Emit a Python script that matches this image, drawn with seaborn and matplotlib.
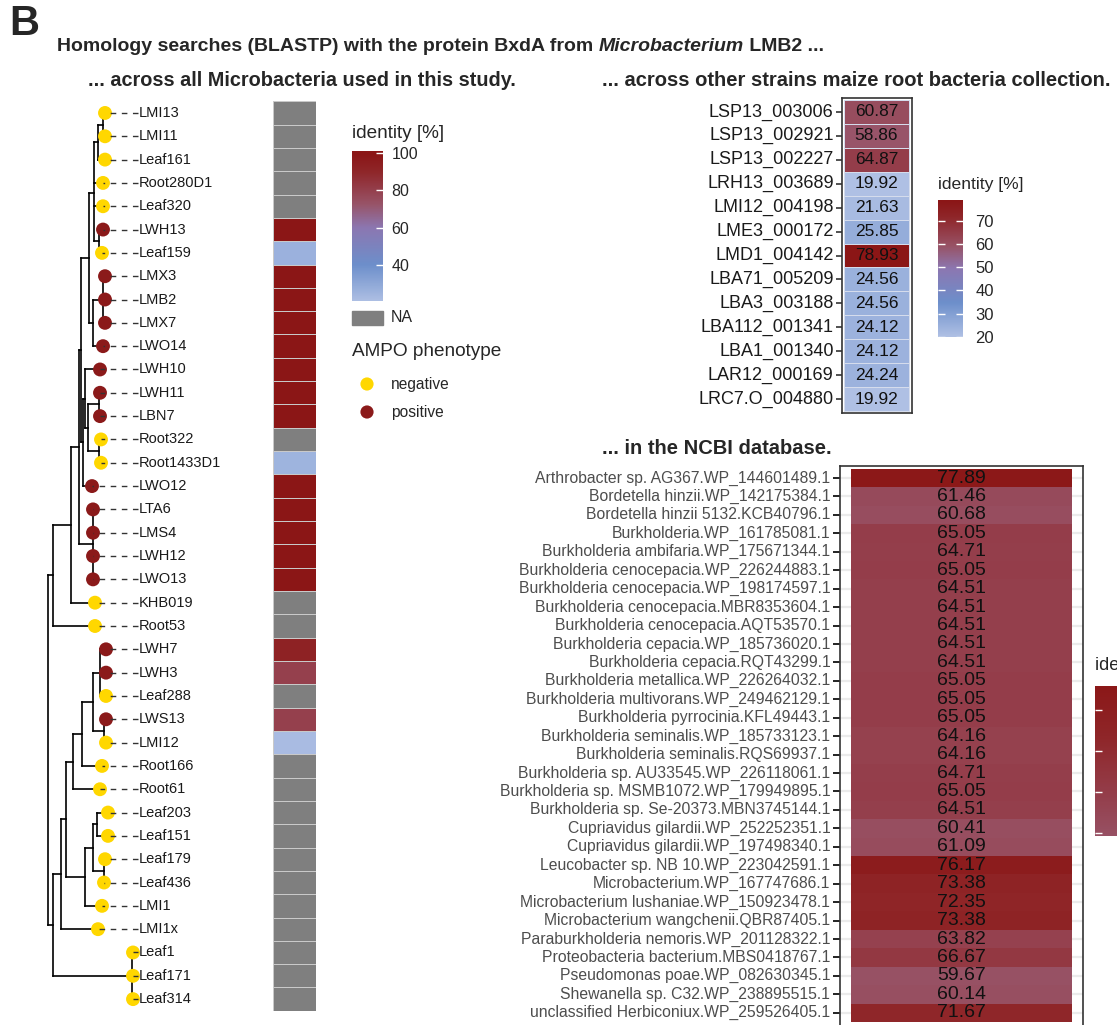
import numpy as np
import pandas as pd
import matplotlib
matplotlib.use("Agg")
import matplotlib.pyplot as plt
import seaborn as sns
from matplotlib.colors import LinearSegmentedColormap, Normalize
from matplotlib.patches import Rectangle

sns.set_style("white")
plt.rcParams["font.family"] = ["Liberation Sans", "DejaVu Sans"]

# ---- data -------------------------------------------------------------
# phylogeny of the Microbacteria (branch lengths)
tree_newick = (
    "(((((((((LMI13:0.02,LMI11:0.02):0.05,Leaf161:0.07):0.04,Root280D1:0.09,"
    "Leaf320:0.09,(LWH13:0.04,Leaf159:0.03):0.05):0.05,"
    "((LMX3:0.02,LMB2:0.02,LMX7:0.02):0.10,LWO14:0.10):0.04):0.08,"
    "((LWH10:0.15,((LWH11:0.01,LBN7:0.01):0.11,(Root322:0.02,Root1433D1:0.02):0.11):0.03):0.02,"
    "LWO12:0.09):0.02):0.02,(LTA6:0,LMS4:0,LWH12:0,LWO13:0):0.14):0.08,KHB019:0.24):0.18,"
    "Root53:0.42):0.05,"
    "(((((((LWH7:0.06,LWH3:0.06,Leaf288:0.06):0.07,(LWS13:0.02,LMI12:0.02):0.11):0.11,"
    "Root166:0.20):0.09,Root61:0.27):0.07,(((Leaf203:0.11,Leaf151:0.11):0.04,"
    "(Leaf179:0.01,Leaf436:0):0.11):0.08,LMI1:0.17):0.19):0.05,LMI1x:0.37):0.08,"
    "(Leaf1:0.01,Leaf171:0.01,Leaf314:0.01):0.79):0.05);"
)

strains = ["LMI13", "LMI11", "Leaf161", "Root280D1", "Leaf320", "LWH13", "Leaf159",
           "LMX3", "LMB2", "LMX7", "LWO14", "LWH10", "LWH11", "LBN7", "Root322",
           "Root1433D1", "LWO12", "LTA6", "LMS4", "LWH12", "LWO13", "KHB019", "Root53",
           "LWH7", "LWH3", "Leaf288", "LWS13", "LMI12", "Root166", "Root61", "Leaf203",
           "Leaf151", "Leaf179", "Leaf436", "LMI1", "LMI1x", "Leaf1", "Leaf171", "Leaf314"]
positive = ["LWH13", "LMX3", "LMB2", "LMX7", "LWO14", "LWH10", "LWH11", "LBN7", "LWO12",
            "LTA6", "LMS4", "LWH12", "LWO13", "LWH7", "LWH3", "LWS13"]
nan = np.nan
strain_identity = [nan, nan, nan, nan, nan, 100, 26, 100, 100, 100, 100, 100, 100, 100, nan,
                   25, 100, 100, 100, 100, 100, nan, nan, 93, 80, nan, 80, 22, nan, nan, nan,
                   nan, nan, nan, nan, nan, nan, nan, nan]

maize_genes = ["LSP13_003006", "LSP13_002921", "LSP13_002227", "LRH13_003689", "LMI12_004198",
               "LME3_000172", "LMD1_004142", "LBA71_005209", "LBA3_003188", "LBA112_001341",
               "LBA1_001340", "LAR12_000169", "LRC7.O_004880"]
maize_identity = [60.87, 58.86, 64.87, 19.92, 21.63, 25.85, 78.93, 24.56, 24.56, 24.12,
                  24.12, 24.24, 19.92]

ncbi_hits = ["Arthrobacter sp. AG367.WP_144601489.1", "Bordetella hinzii.WP_142175384.1",
             "Bordetella hinzii 5132.KCB40796.1", "Burkholderia.WP_161785081.1",
             "Burkholderia ambifaria.WP_175671344.1", "Burkholderia cenocepacia.WP_226244883.1",
             "Burkholderia cenocepacia.WP_198174597.1", "Burkholderia cenocepacia.MBR8353604.1",
             "Burkholderia cenocepacia.AQT53570.1", "Burkholderia cepacia.WP_185736020.1",
             "Burkholderia cepacia.RQT43299.1", "Burkholderia metallica.WP_226264032.1",
             "Burkholderia multivorans.WP_249462129.1", "Burkholderia pyrrocinia.KFL49443.1",
             "Burkholderia seminalis.WP_185733123.1", "Burkholderia seminalis.RQS69937.1",
             "Burkholderia sp. AU33545.WP_226118061.1", "Burkholderia sp. MSMB1072.WP_179949895.1",
             "Burkholderia sp. Se-20373.MBN3745144.1", "Cupriavidus gilardii.WP_252252351.1",
             "Cupriavidus gilardii.WP_197498340.1", "Leucobacter sp. NB 10.WP_223042591.1",
             "Microbacterium.WP_167747686.1", "Microbacterium lushaniae.WP_150923478.1",
             "Microbacterium wangchenii.QBR87405.1", "Paraburkholderia nemoris.WP_201128322.1",
             "Proteobacteria bacterium.MBS0418767.1", "Pseudomonas poae.WP_082630345.1",
             "Shewanella sp. C32.WP_238895515.1", "unclassified Herbiconiux.WP_259526405.1"]
ncbi_identity = [77.89, 61.46, 60.68, 65.05, 64.71, 65.05, 64.51, 64.51, 64.51, 64.51, 64.51,
                 65.05, 65.05, 65.05, 64.16, 64.16, 64.71, 65.05, 64.51, 60.41, 61.09, 76.17,
                 73.38, 72.35, 73.38, 63.82, 66.67, 59.67, 60.14, 71.67]

# ---- helpers ----------------------------------------------------------
W, H = 1117, 1025
fig = plt.figure(figsize=(W / 100, H / 100), dpi=100)


def px_axes(x0, y0, x1, y1):
    return fig.add_axes([x0 / W, 1 - y1 / H, (x1 - x0) / W, (y1 - y0) / H])


def parse_newick(s):
    pos = 0

    def node():
        nonlocal pos
        kids = []
        if s[pos] == "(":
            pos += 1
            while True:
                kids.append(node())
                if s[pos] == ",":
                    pos += 1
                else:
                    break
            pos += 1
        start = pos
        while s[pos] not in ",():;":
            pos += 1
        name = s[start:pos]
        length = 0.0
        if s[pos] == ":":
            pos += 1
            start = pos
            while s[pos] not in ",();":
                pos += 1
            length = float(s[start:pos])
        return {"name": name, "len": length, "kids": kids}

    return node()


identity_cmap = LinearSegmentedColormap.from_list(
    "identity", [(0.0, "#AFC0E4"), (0.25, "#6D8FCB"), (0.5, "#8C77B1"), (0.66, "#985468"),
                 (0.77, "#943C48"), (0.88, "#8F2629"), (1.0, "#8B1616")])
identity_cmap.set_bad("#7F7F7F")
yellow, red = "#FFD700", "#8B1A1A"

bg = fig.add_axes([0, 0, 1, 1], zorder=-5)
bg.set_xlim(0, W)
bg.set_ylim(H, 0)
bg.axis("off")

# ---- titles -----------------------------------------------------------
bg.text(9, 24, "B", fontsize=30, fontweight="bold", va="center")
t1 = bg.text(57, 51, "Homology searches (BLASTP) with the protein BxdA from ",
             fontsize=14, fontweight="bold", va="baseline")
t2 = bg.annotate("Microbacterium", xy=(1, 0), xycoords=t1, va="bottom",
                 fontsize=14, fontweight="bold", style="italic")
bg.annotate(" LMB2 ...", xy=(1, 0), xycoords=t2, va="bottom", fontsize=14, fontweight="bold")
bg.text(88, 80, "... across all Microbacteria used in this study.", fontsize=14.3,
        fontweight="bold", va="center")
bg.text(602, 80, "... across other strains maize root bacteria collection.", fontsize=14.5,
        fontweight="bold", va="center")
bg.text(602, 448, "... in the NCBI database.", fontsize=14.5, fontweight="bold", va="center")

# ---- tree -------------------------------------------------------------
root = parse_newick(tree_newick)
tips = []


def layout(nd, x):
    nd["x"] = x + nd["len"]
    if not nd["kids"]:
        nd["y"] = len(tips)
        tips.append(nd)
    else:
        for k in nd["kids"]:
            layout(k, nd["x"])
        nd["y"] = np.mean([k["y"] for k in nd["kids"]])


layout(root, 0.0)
n = len(strains)
row_top, row_h = 101.3, 23.32
tree_ax = px_axes(40, row_top, 270, row_top + n * row_h)
tree_ax.set_xlim(-0.08, 2.22)
tree_ax.set_ylim(n - 0.5, -0.5)
tree_ax.axis("off")


def draw(nd):
    if nd["kids"]:
        ys = [k["y"] for k in nd["kids"]]
        tree_ax.plot([nd["x"], nd["x"]], [min(ys), max(ys)], color="black", lw=1.2,
                     solid_capstyle="projecting", zorder=1)
        for k in nd["kids"]:
            tree_ax.plot([nd["x"], k["x"]], [k["y"], k["y"]], color="black", lw=1.2,
                         solid_capstyle="projecting", zorder=1)
            draw(k)


draw(root)
label_x = 0.91
for t in tips:
    tree_ax.plot([label_x - 0.01, t["x"]], [t["y"], t["y"]], color="#333333", lw=1,
                 ls=(0, (4, 4)), zorder=3)
    tree_ax.text(label_x, t["y"], t["name"], fontsize=10.5, va="center", ha="left",
                 color="#1A1A1A")
tip_df = pd.DataFrame({"x": [t["x"] for t in tips], "y": [t["y"] for t in tips],
                       "name": [t["name"] for t in tips]})
tip_df["AMPO"] = np.where(tip_df["name"].isin(positive), "positive", "negative")
sns.scatterplot(data=tip_df, x="x", y="y", hue="AMPO", palette={"negative": yellow,
                "positive": red}, s=100, linewidth=0, legend=False, ax=tree_ax, zorder=2,
                clip_on=False)
tree_ax.set_xlabel("")
tree_ax.set_ylabel("")

# ---- heatmap next to the tree -----------------------------------------
hm_ax = px_axes(273, row_top, 316, row_top + n * row_h)
strain_df = pd.DataFrame({"identity": strain_identity}, index=strains)
sns.heatmap(strain_df, cmap=identity_cmap, vmin=20, vmax=100, cbar=False,
            linewidths=0.6, linecolor="#C9C9C9", ax=hm_ax)
hm_ax.set_xticks([])
hm_ax.set_yticks([])
hm_ax.set_ylabel("")

# legend of left panel
bg.text(352, 133, "identity [%]", fontsize=13.7, va="center")
cb1 = px_axes(352, 151, 383, 301)
lo, hi = 20.7, 101.1
cb1.imshow(np.linspace(hi, lo, 200)[:, None], extent=[0, 1, lo, hi], aspect="auto",
           cmap=identity_cmap, norm=Normalize(20, 100))
cb1.set_xlim(0, 1)
cb1.set_ylim(lo, hi)
cb1.set_xticks([])
cb1.set_yticks([40, 60, 80, 100])
cb1.yaxis.tick_right()
cb1.tick_params(axis="y", direction="in", color="white", length=5, width=1, pad=6,
                labelsize=11.5)
for s in cb1.spines.values():
    s.set_visible(False)
bg.add_patch(Rectangle((352, 311), 31, 14, color="#7F7F7F"))
bg.text(391, 318, "NA", fontsize=11.5, va="center")
bg.text(352, 351, "AMPO phenotype", fontsize=13.7, va="center")
bg.scatter([367, 367], [384, 412], s=90, c=[yellow, red], linewidths=0)
bg.text(391, 384, "negative", fontsize=11.2, va="center")
bg.text(391, 412, "positive", fontsize=11.2, va="center")

# ---- maize root bacteria collection -----------------------------------
m_ax = px_axes(842, 98, 912, 413)
maize_df = pd.DataFrame({"identity": maize_identity}, index=maize_genes)
sns.heatmap(maize_df, cmap=identity_cmap, vmin=19.92, vmax=78.93, cbar=False, annot=True,
            fmt=".2f", annot_kws={"size": 12.5, "color": "#111111"}, linewidths=0.4,
            linecolor="#D5DCEC", ax=m_ax)
m_ax.set_xlim(-2 / 65, 1 + 3 / 65)
m_ax.set_ylim(len(maize_genes) + 0.084, -0.084)
m_ax.set_xticks([])
m_ax.set_ylabel("")
m_ax.tick_params(axis="y", left=True, length=4, width=1.2, color="#333333", pad=2,
                 labelsize=13, labelcolor="#1A1A1A", rotation=0)
for s in m_ax.spines.values():
    s.set_visible(True)
    s.set_color("#333333")
    s.set_linewidth(1.2)

bg.text(938, 185, "identity [%]", fontsize=12.6, va="center")
cb2 = px_axes(938, 200, 963, 337)
lo, hi = 19.92, 78.93
cb2.imshow(np.linspace(hi, lo, 200)[:, None], extent=[0, 1, lo, hi], aspect="auto",
           cmap=identity_cmap, norm=Normalize(lo, hi))
cb2.set_xlim(0, 1)
cb2.set_ylim(lo, hi)
cb2.set_xticks([])
cb2.set_yticks([20, 30, 40, 50, 60, 70])
cb2.tick_params(axis="y", direction="in", color="white", length=5, width=1, pad=9,
                labelsize=12, left=True, right=True, labelleft=False, labelright=True)
for s in cb2.spines.values():
    s.set_visible(False)

# ---- NCBI database ----------------------------------------------------
row_n = 18.41
n_ax = px_axes(840, 466, 1083, 1036)
ncbi_df = pd.DataFrame({"identity": ncbi_identity}, index=ncbi_hits)
n_ax.hlines(np.arange(len(ncbi_hits)) + 0.5, -1, 2, colors="#EBEBEB", lw=1.6, zorder=0)
sns.heatmap(ncbi_df, cmap=identity_cmap, vmin=19.92, vmax=78.93, cbar=False, annot=True,
            fmt=".2f", annot_kws={"size": 14, "color": "#111111"}, ax=n_ax)
n_ax.set_xlim(-11 / 221, 1 + 11 / 221)
n_ax.set_ylim(len(ncbi_hits) + 14 / row_n, -2.8 / row_n)
n_ax.set_xticks([])
n_ax.set_ylabel("")
n_ax.tick_params(axis="y", left=True, length=5, width=1.4, color="#222222", pad=2,
                 labelsize=11.3, labelcolor="#4D4D4D", rotation=0)
for s in n_ax.spines.values():
    s.set_visible(True)
    s.set_color("#333333")
    s.set_linewidth(1.2)

# legend of the NCBI panel runs off the right edge, as in the original
bg.text(1095, 665, "identity [%]", fontsize=13, va="center")
cb3 = px_axes(1095, 686, 1140, 836)
lo, hi = 59.67, 77.89
cb3.imshow(np.linspace(hi, lo, 200)[:, None], extent=[0, 1, lo, hi], aspect="auto",
           cmap=identity_cmap, norm=Normalize(19.92, 78.93))
cb3.set_xlim(0, 1)
cb3.set_ylim(lo, hi)
cb3.set_xticks([])
cb3.set_yticks([60, 65, 70, 75])
cb3.tick_params(axis="y", direction="in", color="white", length=5, width=1,
                left=True, right=True, labelleft=False, labelright=False)
for s in cb3.spines.values():
    s.set_visible(False)

fig.savefig("out.png", dpi=100)
